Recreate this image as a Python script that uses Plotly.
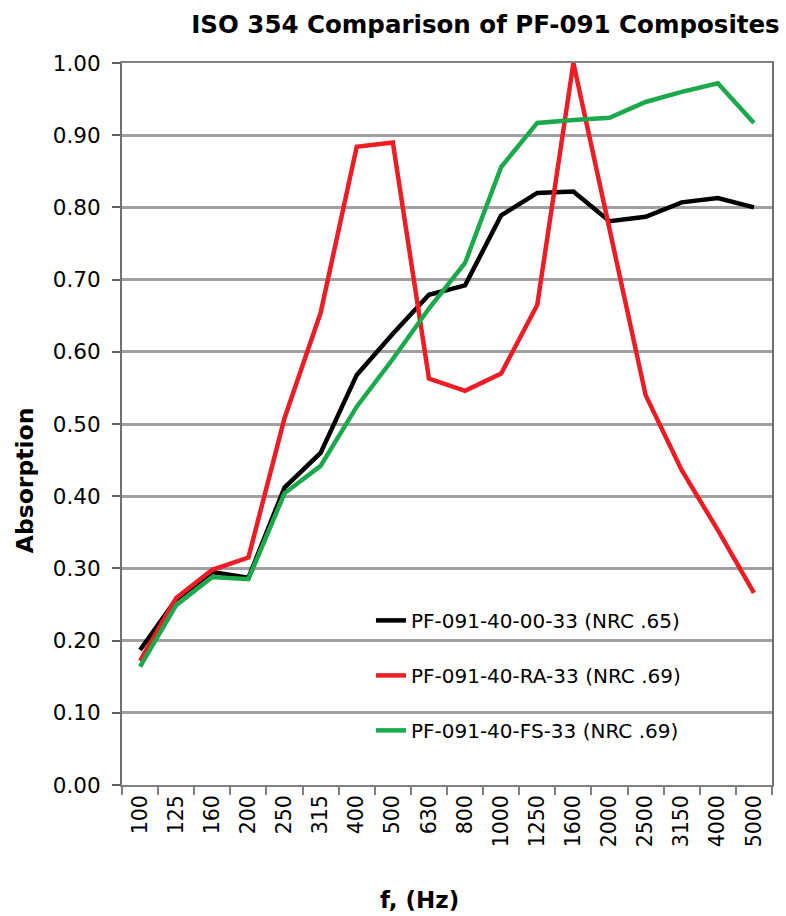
import plotly.graph_objects as go

freqs = ["100", "125", "160", "200", "250", "315", "400", "500", "630", "800",
         "1000", "1250", "1600", "2000", "2500", "3150", "4000", "5000"]

black_name = "PF-091-40-00-33 (NRC .65)"
black_vals = [0.187, 0.257, 0.295, 0.287, 0.412, 0.460, 0.568, 0.625, 0.679, 0.692,
              0.789, 0.820, 0.822, 0.781, 0.787, 0.807, 0.813, 0.800]

red_name = "PF-091-40-RA-33 (NRC .69)"
red_vals = [0.172, 0.259, 0.298, 0.315, 0.508, 0.654, 0.884, 0.890, 0.563, 0.546,
            0.570, 0.665, 1.000, 0.768, 0.540, 0.436, 0.353, 0.266]

green_name = "PF-091-40-FS-33 (NRC .69)"
green_vals = [0.164, 0.249, 0.288, 0.285, 0.404, 0.442, 0.524, 0.590, 0.660, 0.723,
              0.856, 0.917, 0.921, 0.924, 0.946, 0.960, 0.972, 0.917]

y_ticks = [0.0, 0.1, 0.2, 0.3, 0.4, 0.5, 0.6, 0.7, 0.8, 0.9, 1.0]

series = [
    (black_name, black_vals, "#000000"),
    (red_name, red_vals, "#ee1c24"),
    (green_name, green_vals, "#1ba94c"),
]

fig = go.Figure()
for i, (name, vals, color) in enumerate(series):
    fig.add_trace(go.Scatter(
        x=freqs, y=vals, mode="lines", name=name,
        line=dict(color=color, width=4.5),
        legendgroup=f"g{i}",
    ))

font_family = "DejaVu Sans, Liberation Sans, Arial, sans-serif"

W, H = 786, 916
L, R, T, B = 122, 12, 63, 131

fig.update_layout(
    width=W, height=H,
    margin=dict(l=L, r=R, t=T, b=B),
    paper_bgcolor="white", plot_bgcolor="white",
    font=dict(family=font_family, color="#000000"),
    title=dict(
        text="<b>ISO 354 Comparison of PF-091 Composites</b>",
        font=dict(size=24.5, family=font_family, color="#000000"),
        xref="container", x=0.992, xanchor="right",
        yref="container", y=1 - 24 / H, yanchor="middle",
    ),
    showlegend=True,
    legend=dict(
        x=0.383, y=0.255, xanchor="left", yanchor="top",
        bgcolor="rgba(0,0,0,0)",
        font=dict(size=20, family=font_family, color="#000000"),
        tracegroupgap=26,
        traceorder="grouped",
    ),
    xaxis=dict(
        type="category",
        categoryorder="array", categoryarray=freqs,
        tickson="boundaries",
        ticks="outside", ticklen=8, tickcolor="#808080", tickwidth=1.5,
        tickangle=-90,
        tickfont=dict(size=20.5, family=font_family, color="#000000"),
        showline=True, linecolor="#808080", linewidth=2, mirror=True,
        showgrid=False,
        range=[-0.5, len(freqs) - 0.5],
    ),
    yaxis=dict(
        range=[0, 1.0],
        tickvals=y_ticks,
        tickformat=".2f",
        ticks="outside", ticklen=8, tickcolor="#606060", tickwidth=1.5,
        ticklabelstandoff=7,
        tickfont=dict(size=21.5, family=font_family, color="#000000"),
        showline=True, linecolor="#707070", linewidth=2, mirror=True,
        showgrid=True, gridcolor="#a0a0a0", gridwidth=2.5,
        zeroline=False,
    ),
    annotations=[
        dict(text="<b>f, (Hz)</b>", xref="paper", yref="paper",
             x=(420 - L) / (W - L - R), y=-(900 - (H - B)) / (H - T - B),
             xanchor="center", yanchor="middle", showarrow=False,
             font=dict(size=23, family=font_family, color="#000000")),
        dict(text="<b>Absorption</b>", xref="paper", yref="paper",
             x=-(L - 25) / (W - L - R), y=((H - B) - 480) / (H - T - B),
             xanchor="center", yanchor="middle", showarrow=False, textangle=-90,
             font=dict(size=23.5, family=font_family, color="#000000")),
    ],
)

fig.write_html("out.html", config={"displayModeBar": False},
               post_script="document.body.style.margin='0';")
